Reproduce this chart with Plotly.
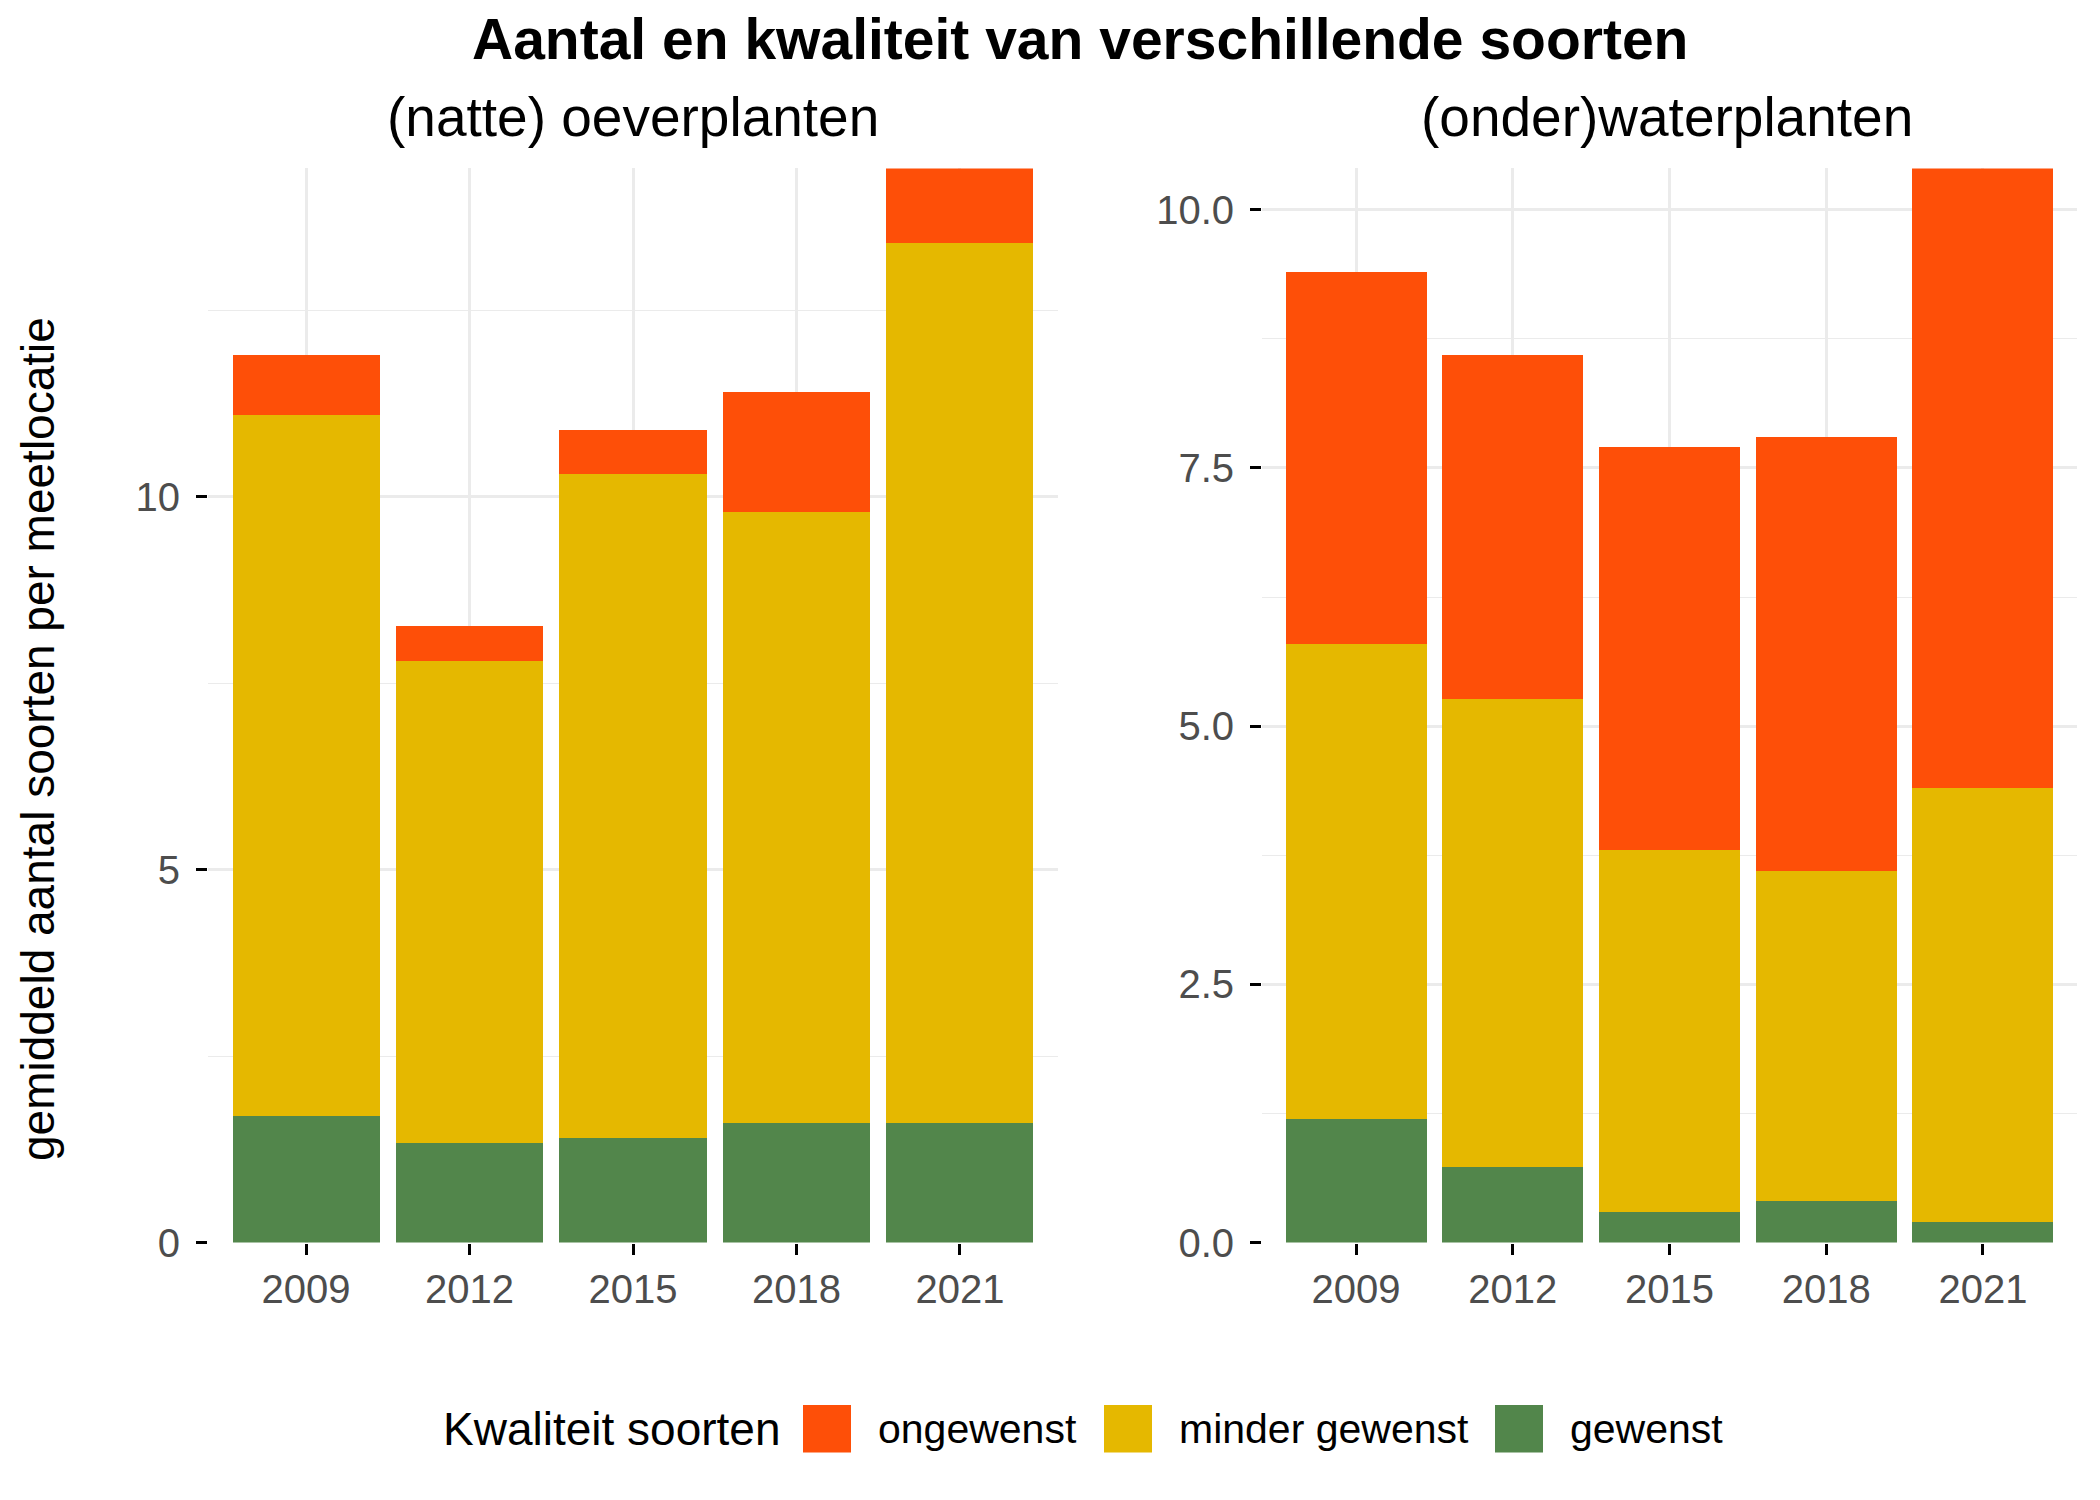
import plotly.graph_objects as go

W, H = 2100, 1500

years = ["2009", "2012", "2015", "2018", "2021"]
categories = ["gewenst", "minder gewenst", "ongewenst"]  # stacking order bottom -> top
legend_order = ["ongewenst", "minder gewenst", "gewenst"]
colors = {"ongewenst": "#FE4F08", "minder gewenst": "#E5B800", "gewenst": "#52864B"}

# (natte) oeverplanten
oever_gewenst = [1.70, 1.33, 1.40, 1.60, 1.60]
oever_minder = [9.40, 6.46, 8.90, 8.20, 11.80]
oever_ongewenst = [0.80, 0.48, 0.60, 1.60, 1.00]

# (onder)waterplanten
water_gewenst = [1.20, 0.73, 0.30, 0.40, 0.20]
water_minder = [4.60, 4.53, 3.50, 3.20, 4.20]
water_ongewenst = [3.60, 3.33, 3.90, 4.20, 6.00]

panel_titles = ["(natte) oeverplanten", "(onder)waterplanten"]
title_text = "Aantal en kwaliteit van verschillende soorten"
ylabel = "gemiddeld aantal soorten per meetlocatie"
legend_title = "Kwaliteit soorten"

FONT = "Liberation Sans, Arial, Helvetica, sans-serif"

def px(x):
    return x / W

def py(y):
    return 1 - y / H

panels = [
    {"gewenst": oever_gewenst, "minder gewenst": oever_minder, "ongewenst": oever_ongewenst},
    {"gewenst": water_gewenst, "minder gewenst": water_minder, "ongewenst": water_ongewenst},
]

fig = go.Figure()
for i, data in enumerate(panels):
    xa = "x" if i == 0 else "x2"
    ya = "y" if i == 0 else "y2"
    for cat in categories:
        fig.add_trace(go.Bar(
            x=years, y=data[cat], name=cat, xaxis=xa, yaxis=ya,
            marker=dict(color=colors[cat], line=dict(width=0)),
            width=0.9, showlegend=False,
        ))

tot_left = max(a + b + c for a, b, c in zip(oever_gewenst, oever_minder, oever_ongewenst))
tot_right = max(a + b + c for a, b, c in zip(water_gewenst, water_minder, water_ongewenst))

grid = "#EBEBEB"
common_x = dict(type="category", range=[-0.6, 4.6], showgrid=True, gridcolor=grid, gridwidth=2.6,
                ticks="outside", ticklen=11, tickwidth=2.6, tickcolor="black",
                tickfont=dict(family=FONT, size=40, color="#4D4D4D"), showline=False, zeroline=False,
                fixedrange=True)
common_y = dict(showgrid=True, gridcolor=grid, gridwidth=2.6, ticks="outside", ticklen=11,
                tickwidth=2.6, tickcolor="black", tickfont=dict(family=FONT, size=40, color="#4D4D4D"),
                zeroline=False, showline=False, ticklabelstandoff=8)

y0, y1 = py(1261), py(171)
fig.update_layout(
    autosize=True, margin=dict(l=0, r=0, t=0, b=0),
    paper_bgcolor="white", plot_bgcolor="white",
    barmode="stack", bargap=0.1, showlegend=False,
    font=dict(family=FONT),
    xaxis=dict(domain=[px(208), px(1058)], anchor="y", **common_x),
    xaxis2=dict(domain=[px(1262), px(2077)], anchor="y2", **common_x),
    yaxis=dict(domain=[y0, y1], anchor="x", range=[0, tot_left], tickvals=[0, 5, 10],
               ticktext=["0", "5", "10"],
               minor=dict(tickvals=[2.5, 7.5, 12.5], showgrid=True, gridcolor=grid, gridwidth=1.3, ticks=""),
               **common_y),
    yaxis2=dict(domain=[y0, y1], anchor="x2", range=[0, tot_right], tickvals=[0, 2.5, 5, 7.5, 10],
                ticktext=["0.0", "2.5", "5.0", "7.5", "10.0"],
                minor=dict(tickvals=[1.25, 3.75, 6.25, 8.75], showgrid=True, gridcolor=grid, gridwidth=1.3, ticks=""),
                **common_y),
)

ann = []
ann.append(dict(text="<b>" + title_text + "</b>", x=px(1080), y=py(40), xref="paper", yref="paper",
                showarrow=False, xanchor="center", yanchor="middle",
                font=dict(family=FONT, size=57, color="black")))
for t, cx in zip(panel_titles, [633, 1667]):
    ann.append(dict(text=t, x=px(cx), y=py(119), xref="paper", yref="paper", showarrow=False,
                    xanchor="center", yanchor="middle", font=dict(family=FONT, size=55, color="black")))
ann.append(dict(text=ylabel, x=px(38), y=py(750), xref="paper", yref="paper", showarrow=False,
                textangle=-90, xanchor="center", yanchor="middle",
                font=dict(family=FONT, size=46, color="black")))

# manual legend
ly = 1450
ann.append(dict(text=legend_title, x=px(441), y=py(ly), xref="paper", yref="paper", showarrow=False,
                xanchor="left", yanchor="middle", font=dict(family=FONT, size=46, color="black")))
sw_x = [803, 1104, 1495]
txt_x = [876, 1177, 1568]
shapes = []
for cat, sx, tx in zip(legend_order, sw_x, txt_x):
    shapes.append(dict(type="rect", xref="paper", yref="paper", x0=px(sx), x1=px(sx + 48),
                       y0=py(ly + 24), y1=py(ly - 24), fillcolor=colors[cat], line=dict(width=0)))
    ann.append(dict(text=cat, x=px(tx), y=py(ly), xref="paper", yref="paper", showarrow=False,
                    xanchor="left", yanchor="middle", font=dict(family=FONT, size=41, color="black")))

fig.update_layout(annotations=ann, shapes=shapes)
pre = ""
post = ("document.documentElement.style.margin='0';document.documentElement.style.padding='0';"
        "document.documentElement.style.overflow='hidden';"
        "document.body.style.margin='0';document.body.style.padding='0';"
        "document.body.style.overflow='hidden';")
fig.write_html("out.html", post_script=post, config={"displayModeBar": False, "responsive": True},
               default_width="100vw", default_height="100vh")
